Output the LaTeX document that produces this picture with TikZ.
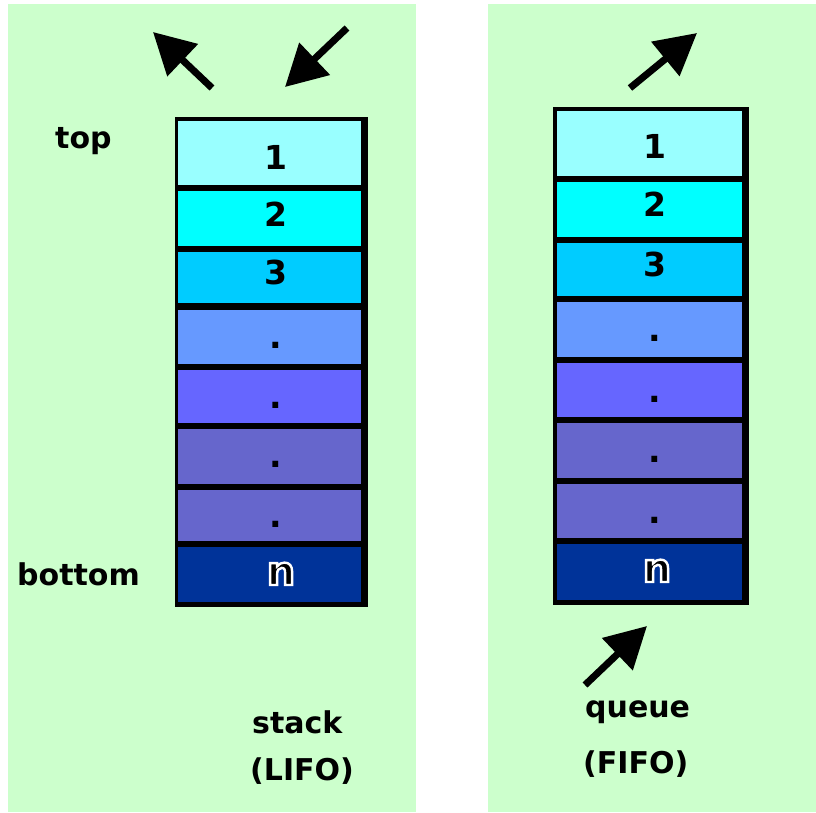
\documentclass[tikz,border=0pt]{standalone}
\usepackage{fontspec}
\setmainfont{DejaVu Sans}
\usetikzlibrary{arrows.meta}
\definecolor{panel}{HTML}{CCFFCC}
\definecolor{cA}{HTML}{99FFFF}
\definecolor{cB}{HTML}{00FFFF}
\definecolor{cC}{HTML}{00CCFF}
\definecolor{cD}{HTML}{6699FF}
\definecolor{cE}{HTML}{6666FF}
\definecolor{cF}{HTML}{6666CC}
\definecolor{cG}{HTML}{003399}
% black letter with a white outline stroke (text render mode 2)
\newcommand{\haloletter}[1]{\special{pdf:literal q 2 Tr 2.4 w 1 1 1 RG}#1\special{pdf:literal Q}}
\tikzset{
  lbl/.style={font=\fontsize{30}{34}\selectfont\bfseries, inner sep=0pt, anchor=base west},
  num/.style={font=\fontsize{33}{36}\selectfont\bfseries, inner sep=0pt, anchor=base},
  lastnum/.style={font=\fontsize{40}{44}\selectfont\bfseries, inner sep=0pt, anchor=base},
  bigarrow/.style={line width=7pt, -{Triangle[length=41pt,width=43pt]}}
}
\begin{document}
\begin{tikzpicture}[x=1pt,y=-1pt]
\useasboundingbox (0,0) rectangle (816,812);
% green panels
\fill[panel] (8,4) rectangle (416,812);
\fill[panel] (488,4) rectangle (816,812);

% ---- stack ----
\fill[black] (175,117) rectangle (368,607);
\fill[cA] (178,121) rectangle (361,185);
\fill[cB] (178,191) rectangle (361,246);
\fill[cC] (178,252) rectangle (361,303);
\fill[cD] (178,310) rectangle (361,364);
\fill[cE] (178,370) rectangle (361,423);
\fill[cF] (178,429) rectangle (361,484);
\fill[cF] (178,490) rectangle (361,541);
\fill[cG] (178,547) rectangle (361,602);
\node[num] (s1) at (276,169) {1};
\node[num] (s2) at (276,226) {2};
\node[num] (s3) at (276,284) {3};
\node[num] (s4) at (276,348) {.};
\node[num] (s5) at (276,408) {.};
\node[num] (s6) at (276,467) {.};
\node[num] (s7) at (276,527) {.};
\node[lastnum] (sn) at (281,585) {\haloletter{n}};

\node[lbl] (top) at (55,148) {top};
\node[lbl] (bottom) at (17,585) {bottom};
\node[lbl] (stack) at (252,733) {stack};
\node[lbl] (lifo) at (250,780) {(LIFO)};

\coordinate (popTail) at (212,88);
\coordinate (popTip) at (153,32);
\coordinate (pushTail) at (347,28);
\coordinate (pushTip) at (285,87);
\draw[bigarrow] (popTail) -- (popTip);
\draw[bigarrow] (pushTail) -- (pushTip);

% ---- queue ----
\fill[black] (553,107) rectangle (749,605);
\fill[cA] (557,111) rectangle (742,176);
\fill[cB] (557,182) rectangle (742,237);
\fill[cC] (557,243) rectangle (742,296);
\fill[cD] (557,302) rectangle (742,357);
\fill[cE] (557,363) rectangle (742,417);
\fill[cF] (557,423) rectangle (742,478);
\fill[cF] (557,484) rectangle (742,538);
\fill[cG] (557,544) rectangle (742,600);
\node[num] (q1) at (655,158) {1};
\node[num] (q2) at (655,216) {2};
\node[num] (q3) at (655,276) {3};
\node[num] (q4) at (655,341) {.};
\node[num] (q5) at (655,402) {.};
\node[num] (q6) at (655,462) {.};
\node[num] (q7) at (655,523) {.};
\node[lastnum] (qn) at (657,582) {\haloletter{n}};

\node[lbl] (queue) at (585,717) {queue};
\node[lbl] (fifo) at (583,773) {(FIFO)};

\coordinate (deqTail) at (630,88);
\coordinate (deqTip) at (697,33);
\coordinate (enqTail) at (585,685);
\coordinate (enqTip) at (647,626);
\draw[bigarrow] (deqTail) -- (deqTip);
\draw[bigarrow] (enqTail) -- (enqTip);
\end{tikzpicture}
\end{document}
